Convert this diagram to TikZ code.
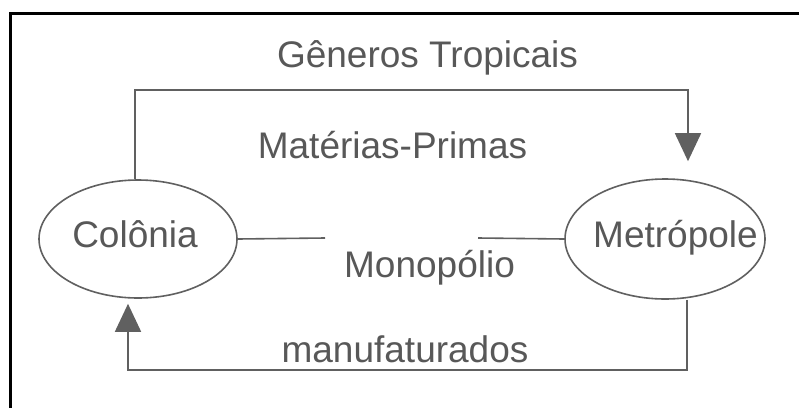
\documentclass[tikz,border=0pt]{standalone}
\usepackage{fontspec}
\setmainfont{Liberation Sans}
\usetikzlibrary{arrows.meta,shapes.geometric}
\definecolor{txtgray}{HTML}{585858}
\definecolor{linegray}{HTML}{606060}
\begin{document}
\begin{tikzpicture}[x=1pt,y=-1pt,
  txt/.style={font=\fontsize{37}{44}\selectfont, text=txtgray, inner sep=0pt, anchor=base},
  oval/.style={draw=linegray, line width=1.6pt, ellipse, inner sep=0pt},
  conn/.style={draw=linegray, line width=1.6pt},
  tip/.style={-{Triangle[width=26pt,length=28pt]}}]
\fill[white] (0,0) rectangle (799,407);
\useasboundingbox (0,0) rectangle (799,407);
% frame
\draw[line width=3pt] (10,408) -- (10,13) -- (800,13);
% ellipses
\node[oval, minimum width=198pt, minimum height=118pt] (col) at (138,239) {};
\node[oval, minimum width=200pt, minimum height=120pt] (met) at (665,239) {};
% texts
\node[txt] (colt) at (135,247) {Colônia};
\node[txt] (mett) at (675.5,247) {Metrópole};
\node[txt] (gen) at (427.5,67) {Gêneros Tropicais};
\node[txt] (mat) at (392.5,158) {Matérias-Primas};
\node[txt] (mon) at (429.5,277) {Monopólio};
\node[txt] (man) at (405,362) {manufaturados};
% connectors
\coordinate (topr) at (688,90);
\coordinate (botr) at (687,370);
\coordinate (ml) at (325,238);
\coordinate (mr) at (478,238);
\draw[conn, tip, shorten >=17pt] ([xshift=-3pt]col.north) |- (topr) -- (topr |- met.north);
\draw[conn, tip, shorten >=5pt] (botr |- met.south) -- (botr) -| ([xshift=-10pt]col.south);
\draw[conn] (col.east) -- (ml);
\draw[conn] (mr) -- (met.west);
\end{tikzpicture}
\end{document}
